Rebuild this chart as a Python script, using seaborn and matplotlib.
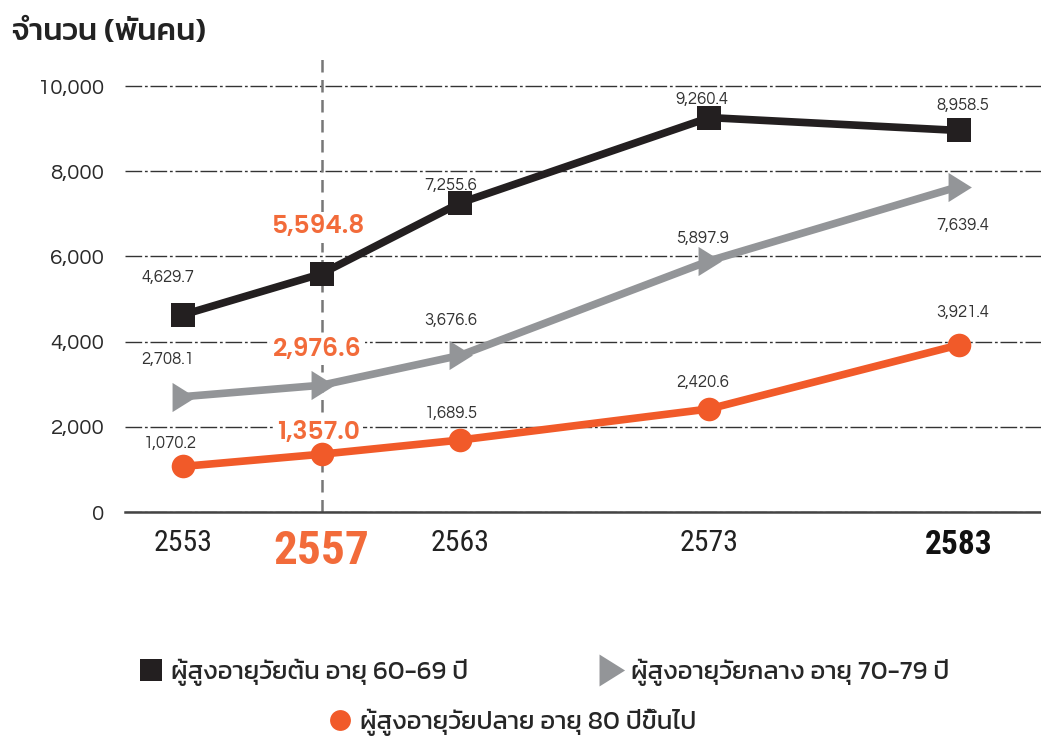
import matplotlib
matplotlib.use("Agg")
import matplotlib.pyplot as plt
from matplotlib.lines import Line2D
import seaborn as sns

# data (thousand persons)
years = ["2553", "2557", "2563", "2573", "2583"]
early = [4629.7, 5594.8, 7255.6, 9260.4, 8958.5]    # 60-69
middle = [2708.1, 2976.6, 3676.6, 5897.9, 7639.4]   # 70-79
late = [1070.2, 1357.0, 1689.5, 2420.6, 3921.4]     # 80+
series_names = ["ผู้สูงอายุวัยต้น อายุ 60-69 ปี",
                "ผู้สูงอายุวัยกลาง อายุ 70-79 ปี",
                "ผู้สูงอายุวัยปลาย อายุ 80 ปีขึ้นไป"]
y_label = "จำนวน (พันคน)"

# x slots on the axis (uneven spacing like the original)
x_slots = [0, 1, 2, 3.8, 5.6]

sns.set_style("white")
THAI = ["Kanit", "Prompt", "Anuphan", "DejaVu Sans"]
NUM = ["Questrial", "Didact Gothic", "DejaVu Sans"]
BOLDNUM = ["Poppins", "DejaVu Sans"]
COND = ["Roboto Condensed", "Liberation Sans", "DejaVu Sans"]
plt.rcParams["font.family"] = THAI

black = "#231f20"
grey = "#939598"
orange = "#f15a29"
orange_txt = "#f26b3a"

fig = plt.figure(figsize=(10.41, 7.38), dpi=100)
ax = fig.add_axes([125 / 1041, 1 - 512 / 738, (1041 - 125) / 1041, (512 - 55) / 738])

tri = [(-0.75, 1), (0.85, 0), (-0.75, -1)]
sns.lineplot(x=x_slots, y=middle, color=grey, marker=tri, markersize=21,
             markeredgewidth=0, linewidth=5.5, ax=ax, zorder=3)
sns.lineplot(x=x_slots, y=late, color=orange, marker="o", markersize=17,
             markeredgewidth=0, linewidth=5.5, ax=ax, zorder=3)
sns.lineplot(x=x_slots, y=early, color=black, marker="s", markersize=17,
             markeredgewidth=0, linewidth=5.5, ax=ax, zorder=4)

# axes
ax.set_xlim(-0.419, 6.195)
ax.set_ylim(0, 10730)
ax.set_yticks(range(0, 10001, 2000))
ax.set_yticklabels([f"{v:,}" for v in range(0, 10001, 2000)],
                   family=NUM, fontsize=16, color="#2a2a2a")
ax.set_xticks(x_slots)
ax.set_xticklabels(years)
ax.tick_params(axis="both", length=0)
ax.tick_params(axis="y", pad=15)
ax.tick_params(axis="x", pad=12)
for i, lab in enumerate(ax.get_xticklabels()):
    lab.set_family(COND)
    if i == 1:
        lab.set_fontsize(34)
        lab.set_fontweight("bold")
        lab.set_color(orange_txt)
    elif i == 4:
        lab.set_fontsize(24)
        lab.set_fontweight("bold")
        lab.set_color("#111111")
    else:
        lab.set_fontsize(21.5)
        lab.set_color("#222222")

ax.grid(axis="y", color="#333333", linestyle=(0, (12, 2, 2, 2)), linewidth=1)
ax.set_axisbelow(True)
for s in ["left", "top", "right"]:
    ax.spines[s].set_visible(False)
ax.spines["bottom"].set_color("#444444")
ax.spines["bottom"].set_linewidth(1.8)
ax.axvline(x_slots[1], color="#777777", linestyle=(0, (5, 3)), linewidth=1.8, zorder=1)

# value labels (offsets in pixels from the point)
offsets = {
    "early": [(-15, 37), (-4, 46), (-9, 17), (-7, 18), (4, 25)],
    "middle": [(-15, 37), (-4, 35), (-9, 35), (-7, 22), (4, -39)],
    "late": [(-13, 23), (-3, 21), (-9, 27), (-7, 26), (4, 32)],
}
for key, vals in [("early", early), ("middle", middle), ("late", late)]:
    for i, v in enumerate(vals):
        if i == 1:
            # highlighted year: bigger orange label on a white patch over the grid
            kw = dict(family=BOLDNUM, fontsize=18, fontweight="semibold", color=orange_txt,
                      bbox=dict(facecolor="white", edgecolor="none", pad=2))
        else:
            kw = dict(family=NUM, fontsize=12, color="#333333")
        ax.annotate(f"{v:,.1f}", (x_slots[i], v), xytext=offsets[key][i],
                    textcoords="offset pixels", ha="center", va="center",
                    zorder=2.5, **kw)

# y title
fig.text(12 / 1041, 1 - 32 / 738, y_label, fontsize=22.5, fontweight="medium",
         color="#222222", va="center", ha="left", family=THAI)

# legend (three separate entries placed like the original)
h1 = Line2D([], [], color=black, marker="s", markersize=16.5, linestyle="none", markeredgewidth=0)
h2 = Line2D([], [], color=grey, marker=tri, markersize=23, linestyle="none", markeredgewidth=0)
h3 = Line2D([], [], color=orange, marker="o", markersize=15, linestyle="none", markeredgewidth=0)
for h, name, xy in [(h1, series_names[0], (138 / 1041, 1 - 672 / 738)),
                    (h2, series_names[1], (598 / 1041, 1 - 672 / 738)),
                    (h3, series_names[2], (327 / 1041, 1 - 722 / 738))]:
    fig.legend(handles=[h], labels=[name], loc="center left", bbox_to_anchor=xy,
               frameon=False, borderpad=0, borderaxespad=0, handlelength=1.0,
               handletextpad=0.3, prop={"family": THAI, "size": 18.5})

fig.savefig("out.png", dpi=100)
